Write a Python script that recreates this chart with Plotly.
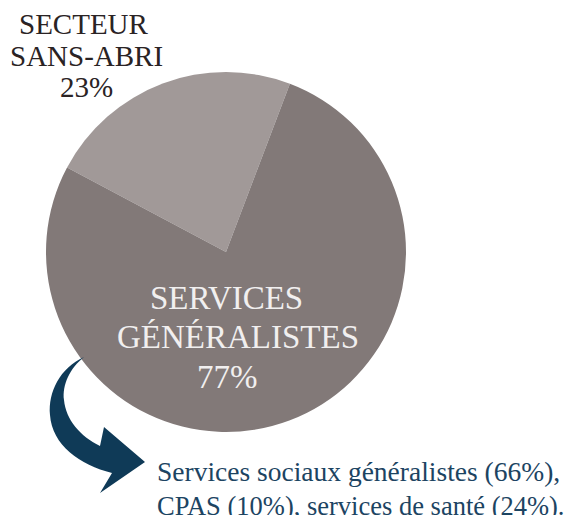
import plotly.graph_objects as go

# Data
categories = ["SECTEUR<br>SANS-ABRI", "SERVICES<br>GÉNÉRALISTES"]
values = [23, 77]
label_lines = [["SECTEUR", "SANS-ABRI", "23%"], ["SERVICES", "GÉNÉRALISTES", "77%"]]
note_lines = ["Services sociaux généralistes (66%),", "CPAS (10%), services de santé (24%)."]

W, H = 573, 515
OFF = 8  # page body margin
colors = ["#a19998", "#827978"]
SERIF = "Liberation Serif, Times New Roman, serif"


def P(x, y):
    return x - OFF, y - OFF


fig = go.Figure()

# pie centered at (226, 252) screen px, radius 180
cx, cy = P(226, 252)
r = 180
fig.add_trace(go.Pie(
    labels=categories, values=values, sort=False, direction="clockwise",
    rotation=-62, marker=dict(colors=colors, line=dict(width=0)),
    textinfo="none", hoverinfo="label+percent", showlegend=False,
    domain=dict(x=[(cx - r) / W, (cx + r) / W], y=[(H - cy - r) / H, (H - cy + r) / H]),
))

# invisible pixel-space axes for annotations and the arrow
fig.update_xaxes(range=[0, W], visible=False, fixedrange=True)
fig.update_yaxes(range=[H, 0], visible=False, fixedrange=True)
fig.add_trace(go.Scatter(x=[0], y=[0], mode="markers", marker=dict(opacity=0), showlegend=False, hoverinfo="skip"))

# labels
pos0 = [(84, 24), (86, 56), (86, 87)]
for (x, y), t in zip(pos0, label_lines[0]):
    px, py = P(x, y)
    fig.add_annotation(x=px, y=py, xref="x", yref="y", text=t, showarrow=False,
                       font=dict(family=SERIF, size=29, color="#2a2324"), xanchor="center", yanchor="middle")
pos1 = [(226, 298), (238, 337), (227, 377)]
for (x, y), t in zip(pos1, label_lines[1]):
    px, py = P(x, y)
    fig.add_annotation(x=px, y=py, xref="x", yref="y", text=t, showarrow=False,
                       font=dict(family=SERIF, size=33, color="#f1efef"), xanchor="center", yanchor="middle")

note_sizes = [27.5, 26.5]
for i, t in enumerate(note_lines):
    px, py = P(155, 471 + i * 35)
    fig.add_annotation(x=px, y=py, xref="x", yref="y", text=t, showarrow=False,
                       font=dict(family=SERIF, size=note_sizes[i], color="#1c4462"), xanchor="left", yanchor="middle")

# curved arrow (screen px, shifted by body margin)
pts = [(84, 357), (60, 368), (48, 392), (50, 415), (52, 445), (80, 465), (112, 473), (100, 493),
       (145, 462), (104, 427), (100, 446), (80, 436), (66, 420), (64, 400), (62, 385), (70, 368)]
q = [P(x, y) for x, y in pts]
f = lambda p: f"{p[0]},{p[1]}"
arrow = (f"M {f(q[0])} C {f(q[1])} {f(q[2])} {f(q[3])} C {f(q[4])} {f(q[5])} {f(q[6])} "
         f"L {f(q[7])} L {f(q[8])} L {f(q[9])} L {f(q[10])} C {f(q[11])} {f(q[12])} {f(q[13])} "
         f"C {f(q[14])} {f(q[15])} {f(q[0])} Z")
fig.add_shape(type="path", path=arrow, xref="x", yref="y", fillcolor="#0f3a57", line=dict(width=0))

fig.update_layout(width=W, height=H, margin=dict(l=0, r=0, t=0, b=0),
                  paper_bgcolor="white", plot_bgcolor="rgba(0,0,0,0)")
fig.write_html("out.html")
